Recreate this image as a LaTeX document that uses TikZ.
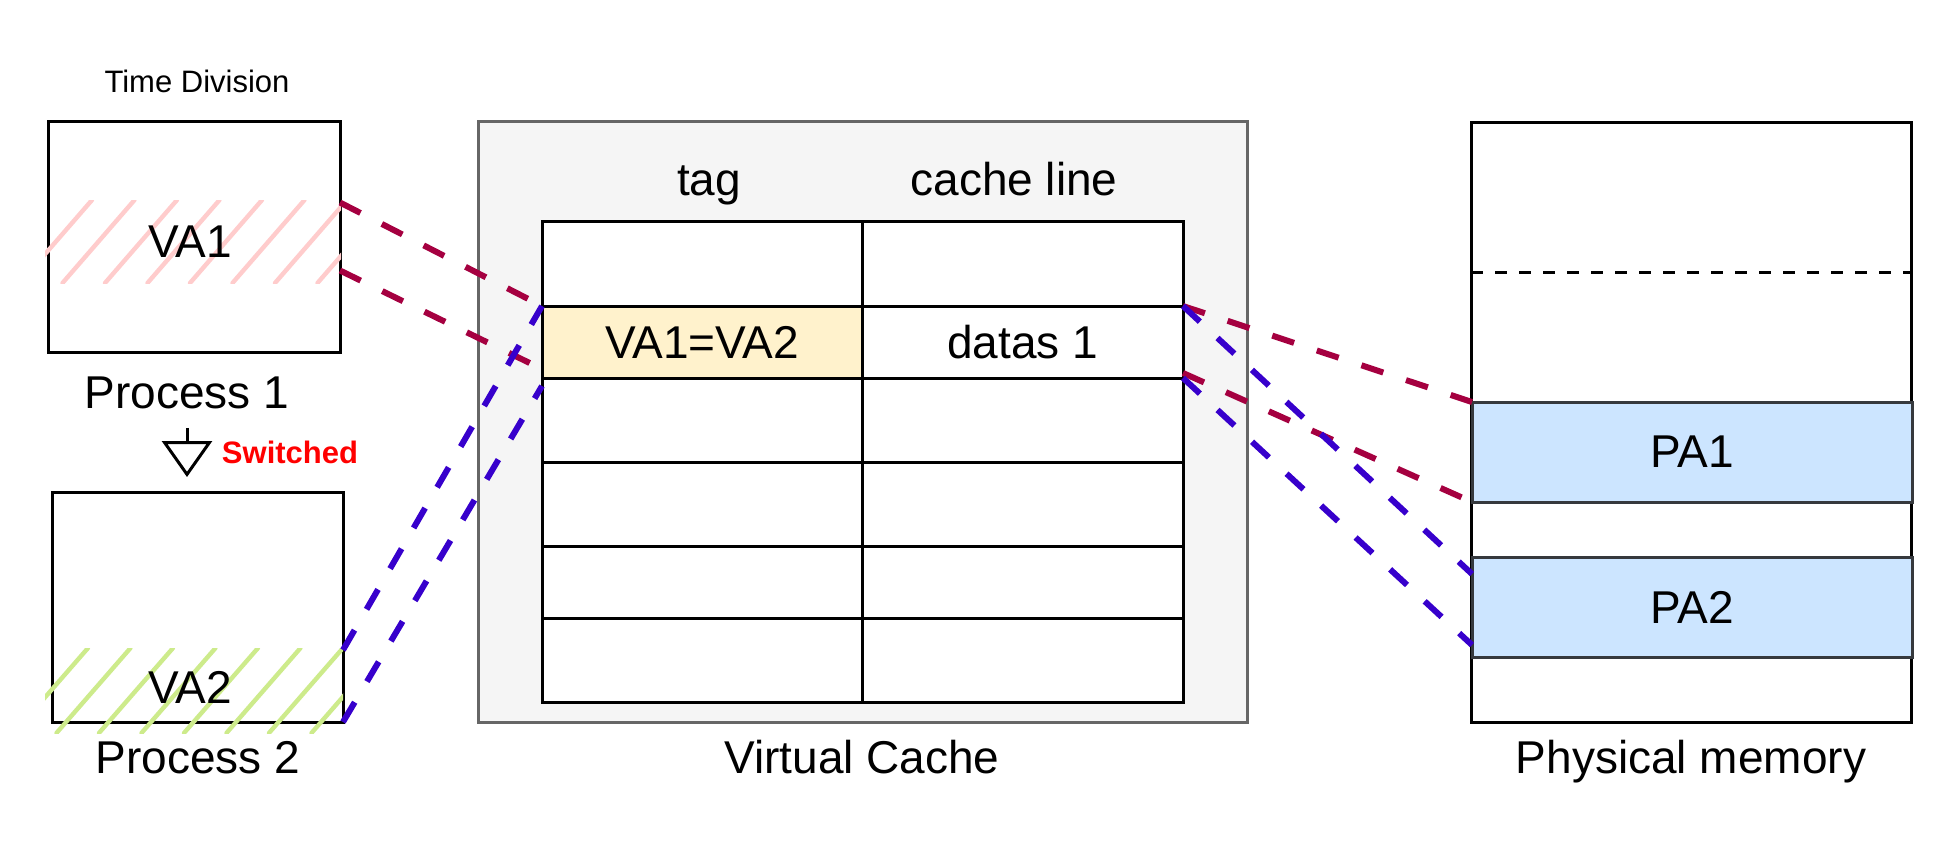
\documentclass[tikz,border=0pt]{standalone}
\usepackage{fontspec}
\setmainfont{Liberation Sans}
\usetikzlibrary{arrows.meta}

\definecolor{linkred}{HTML}{A50040}
\definecolor{linkblue}{HTML}{3700CC}
\definecolor{vcgray}{HTML}{666666}
\definecolor{vcfill}{HTML}{F5F5F5}
\definecolor{vafill}{HTML}{FFF2CC}
\definecolor{pafill}{HTML}{CCE5FF}
\definecolor{padraw}{HTML}{36393D}
\definecolor{hatchpink}{HTML}{FFCCCC}
\definecolor{hatchgreen}{HTML}{CDEB8B}
\definecolor{switchred}{HTML}{FF0000}

\newcommand{\lblsize}{\fontsize{23}{27}\selectfont}
\newcommand{\notesize}{\fontsize{15.5}{18}\selectfont}

\tikzset{
  box/.style 2 args={draw, line width=1.5pt, fill=white, inner sep=0pt, outer sep=0pt,
    minimum width=#1, minimum height=#2},
  cell/.style 2 args={box={#1}{#2}, font=\lblsize},
  pabox/.style={box={220pt}{50pt}, draw=padraw, fill=pafill, font=\lblsize},
  lbl/.style={font=\lblsize, inner sep=0pt, anchor=base},
  smalllbl/.style={font=\notesize, inner sep=0pt, anchor=base},
  hatch/.style={draw=#1, line width=2.2pt, line cap=round},
  redlink/.style={draw=linkred, line width=3pt, dash pattern=on 11.5pt off 12pt},
  bluelink/.style={draw=linkblue, line width=3pt, dash pattern=on 11.5pt off 12pt},
  memsplit/.style={draw, line width=1.5pt, dash pattern=on 6pt off 6pt},
  switcharrow/.style={draw, line width=1.5pt, -{Triangle[open, length=18pt, width=25pt]}}
}

\begin{document}
\begin{tikzpicture}[x=0.5pt, y=-0.5pt]
  \useasboundingbox (0,0) rectangle (1956,848);

  % process 1
  \node[smalllbl] (tdiv) at (197,92) {Time Division};
  \node[box={146pt}{115.5pt}] (p1) at (194,236.5) {};
  \begin{scope}
    \clip (45,200) rectangle (341,283);
    \foreach \k in {0,...,7}
      \draw[hatch=hatchpink] ({20+42.5*\k},283) -- ({92+42.5*\k},200);
  \end{scope}
  \node[lbl] (va1) at (190,257) {VA1};
  \node[lbl] (p1lbl) at (187,408) {Process 1};

  % process 2
  \node[box={145.5pt}{115pt}] (p2) at (197.5,607) {};
  \begin{scope}
    \clip (45,648) rectangle (343,733);
    \foreach \k in {0,...,7}
      \draw[hatch=hatchgreen] ({14+42.5*\k},733) -- ({88+42.5*\k},648);
  \end{scope}
  \node[lbl] (va2) at (190,703) {VA2};
  \node[lbl] (p2lbl) at (198,773) {Process 2};

  \draw[switcharrow, shorten <=9.5pt, shorten >=7.5pt] (p1lbl.south) -- (p1lbl.south |- p2.north);
  \node[smalllbl, font=\notesize\bfseries, text=switchred] (sw) at (290,463) {Switched};

  % virtual cache
  \node[box={384.5pt}{300.5pt}, draw=vcgray, fill=vcfill] (vc) at (862.5,421.5) {};
  \node[lbl] (taghd) at (709,195) {tag};
  \node[lbl] (linehd) at (1014,195) {cache line};
  \foreach \cy/\h/\r in {263.5/42.5/1, 420/42/3, 504/42/4, 582/36/5, 660/42/6} {
    \node[cell={160pt}{\h pt}] (tag\r) at (702,\cy) {};
    \node[cell={160.5pt}{\h pt}] (line\r) at (1022.5,\cy) {};
  }
  \node[cell={160pt}{36pt}, fill=vafill] (tag2) at (702,342) {VA1=VA2};
  \node[cell={160.5pt}{36pt}] (line2) at (1022.5,342) {datas 1};
  \node[lbl] (vclbl) at (862,773) {Virtual Cache};

  % physical memory
  \node[box={220pt}{300pt}] (pm) at (1691,422) {};
  \draw[memsplit] ([yshift=-75pt]pm.north west) -- ([yshift=-75pt]pm.north east);
  \node[pabox] (pa1) at (1692,452) {PA1};
  \node[pabox] (pa2) at (1692,607) {PA2};
  \node[lbl] (pmlbl) at (1691,773) {Physical memory};

  % mappings
  \draw[redlink] ([yshift=17pt]p1.east) -- (tag2.north west);
  \draw[redlink] ([yshift=-17pt]p1.east) -- ([yshift=4.5pt]tag2.south west);
  \draw[bluelink] ([yshift=36pt]p2.south east) -- (tag2.north west);
  \draw[bluelink] (p2.south east) -- ([yshift=-4pt]tag2.south west);
  \draw[redlink] (line2.north east) -- (pa1.north west);
  \draw[redlink] ([yshift=2.5pt]line2.south east) -- (pa1.south west);
  \draw[bluelink] (line2.north east) -- ([yshift=-8.5pt]pa2.north west);
  \draw[bluelink] (line2.south east) -- ([yshift=6pt]pa2.south west);
\end{tikzpicture}
\end{document}
